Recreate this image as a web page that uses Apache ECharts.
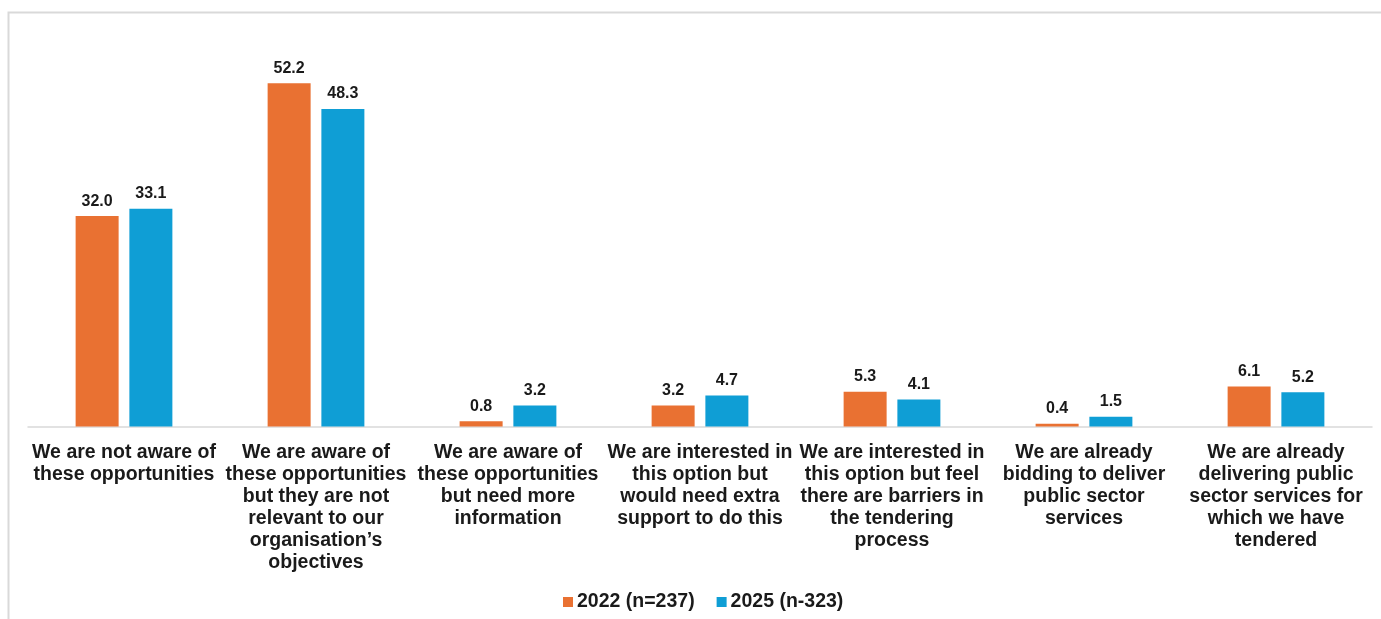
<!DOCTYPE html>
<html>
<head>
<meta charset="utf-8">
<title>Awareness of public sector tendering opportunities</title>
<script src="https://cdn.jsdelivr.net/npm/echarts@6/dist/echarts.min.js"></script>
<style>
  html, body { margin: 0; padding: 0; background: #ffffff; }
  #chart { width: 1381px; height: 619px; }
</style>
</head>
<body>
<div id="chart"></div>
<script>
// Response options (line breaks as shown under each pair of bars)
const categories = [
  'We are not aware of\nthese opportunities',
  'We are aware of\nthese opportunities\nbut they are not\nrelevant to our\norganisation\u2019s\nobjectives',
  'We are aware of\nthese opportunities\nbut need more\ninformation',
  'We are interested in\nthis option but\nwould need extra\nsupport to do this',
  'We are interested in\nthis option but feel\nthere are barriers in\nthe tendering\nprocess',
  'We are already\nbidding to deliver\npublic sector\nservices',
  'We are already\ndelivering public\nsector services for\nwhich we have\ntendered'
];

const seriesNames = ['2022 (n=237)', '2025 (n-323)'];

// Percentage of respondents
const values2022 = [32.0, 52.2, 0.8, 3.2, 5.3, 0.4, 6.1];
const values2025 = [33.1, 48.3, 3.2, 4.7, 4.1, 1.5, 5.2];

const colors = ['#E97132', '#0F9ED5'];
const fontFamily = 'Arial, "Liberation Sans", sans-serif';

const chart = echarts.init(document.getElementById('chart'), null, { renderer: 'canvas' });

const valueLabel = {
  show: true,
  position: 'top',
  distance: 7,
  fontFamily: fontFamily,
  fontWeight: 'bold',
  fontSize: 16,
  color: '#1a1a1a',
  formatter: p => p.value.toFixed(1)
};

chart.setOption({
  animation: false,
  backgroundColor: '#ffffff',
  color: colors,
  graphic: [{
    type: 'rect',
    silent: true,
    shape: { x: 8.5, y: 12.5, width: 1390, height: 640 },
    style: { fill: 'none', stroke: '#d9d9d9', lineWidth: 2 }
  }],
  grid: { left: 28, right: 9, top: 32, bottom: 192.5, containLabel: false },
  legend: {
    bottom: 2,
    left: 558,
    itemWidth: 10,
    itemHeight: 10,
    itemGap: 22,
    icon: 'rect',
    textStyle: { fontFamily: fontFamily, fontWeight: 'bold', fontSize: 19.5, color: '#1a1a1a', padding: [0, 0, 0, -1] },
    data: seriesNames
  },
  xAxis: {
    type: 'category',
    data: categories,
    axisLine: { show: true, lineStyle: { color: '#d9d9d9', width: 1.5 } },
    axisTick: { show: false },
    axisLabel: {
      interval: 0,
      margin: 15,
      fontFamily: fontFamily,
      fontWeight: 'bold',
      fontSize: 19.5,
      lineHeight: 22,
      color: '#1a1a1a',
      align: 'center'
    }
  },
  yAxis: {
    type: 'value',
    min: 0,
    max: 60,
    show: false,
    splitLine: { show: false }
  },
  series: [
    {
      name: seriesNames[0],
      type: 'bar',
      data: values2022,
      barWidth: 43,
      barGap: '25%',
      itemStyle: { color: colors[0] },
      label: valueLabel
    },
    {
      name: seriesNames[1],
      type: 'bar',
      data: values2025,
      barWidth: 43,
      barGap: '25%',
      itemStyle: { color: colors[1] },
      label: valueLabel
    }
  ]
});
</script>
</body>
</html>
